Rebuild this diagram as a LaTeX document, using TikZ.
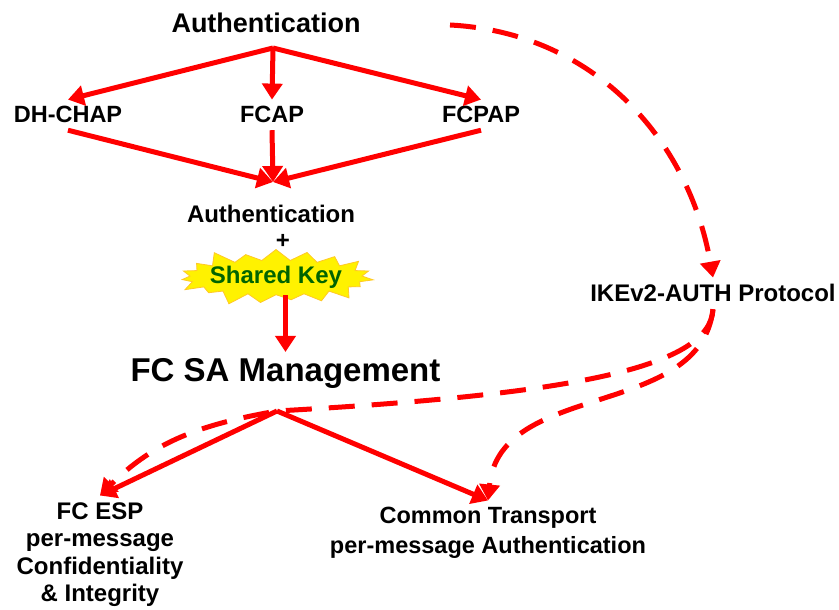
\documentclass[tikz,border=0pt]{standalone}
\usepackage{fontspec}
\setmainfont{Liberation Sans}
\usetikzlibrary{arrows.meta,shapes.symbols}
\definecolor{keygreen}{RGB}{0,100,0}
\definecolor{keyedge}{RGB}{255,200,40}

\begin{document}
\begin{tikzpicture}[x=1pt,y=1pt]
\tikzstyle{txt} = [font=\bfseries\fontsize{24}{27.5}\selectfont, inner sep=2pt, outer sep=5pt]
\tikzstyle{burst} = [starburst, fill=yellow, draw=keyedge, line width=0.8pt, text=keygreen, font=\bfseries\fontsize{24}{27.5}\selectfont, starburst points=19, starburst point height=15pt, inner xsep=-5pt, inner ysep=1pt]
\tikzstyle{arrow} = [red, line width=5pt, -{Triangle[length=16pt,width=20pt]}]
\tikzstyle{dasharrow} = [arrow, dash pattern=on 26pt off 17pt]
%
\useasboundingbox (0,0) rectangle (839,610);
%
\node (1) [txt, anchor=base, font=\bfseries\fontsize{27}{30}\selectfont] at (266,577) {Authentication};
\node (2) [txt, anchor=base, font=\bfseries\fontsize{23.5}{27}\selectfont] at (68,487) {DH-CHAP};
\node (3) [txt, anchor=base, font=\bfseries\fontsize{23.5}{27}\selectfont] at (272,487) {FCAP};
\node (4) [txt, anchor=base, font=\bfseries\fontsize{23.5}{27}\selectfont] at (481,487) {FCPAP};
\node (5) [txt, anchor=base] at (271,387) {Authentication};
\node (6) [txt] at (283,369) {+};
\node (7) [burst] at (276,332.5) {Shared Key};
\node (8) [txt, anchor=base, font=\bfseries\fontsize{33}{36}\selectfont] at (285.5,228) {FC SA Management};
\node (9) [txt, anchor=base] at (713,308) {IKEv2-AUTH Protocol};
\node (10) [txt, align=center, anchor=north] at (100,114.5) {FC ESP\\per-message\\Confidentiality\\\& Integrity};
\node (11) [txt, align=center, anchor=north, font=\bfseries\fontsize{23.5}{30}\selectfont] at (488,109.5) {Common Transport\\per-message Authentication};
%
\coordinate (top) at (273,562);
\coordinate (merge) at (273,428);
\coordinate (fork) at (277,199);
\coordinate (start) at (450,585);
%
\draw [arrow] (top) -- (2.north);
\draw [arrow] (top) -- (3.north);
\draw [arrow] (top) -- (4.north);
\draw [arrow] (2.south) -- (merge);
\draw [arrow] (3.south) -- (merge);
\draw [arrow] (4.south) -- (merge);
\draw [arrow] (7.south -| 8.north) -- (8.north);
\draw [arrow] (fork) -- (10.north);
\draw [arrow] (fork) -- (11.north);
%
\draw [dasharrow] (start) to[out=-3,in=100] (9.north);
\draw [dasharrow] (9.south) .. controls (710,240) and (560,215) .. (fork) to[out=190,in=45] (10.north);
\draw [dasharrow] (9.south) .. controls (700,190) and (500,230) .. (11.north);
\end{tikzpicture}
\end{document}
